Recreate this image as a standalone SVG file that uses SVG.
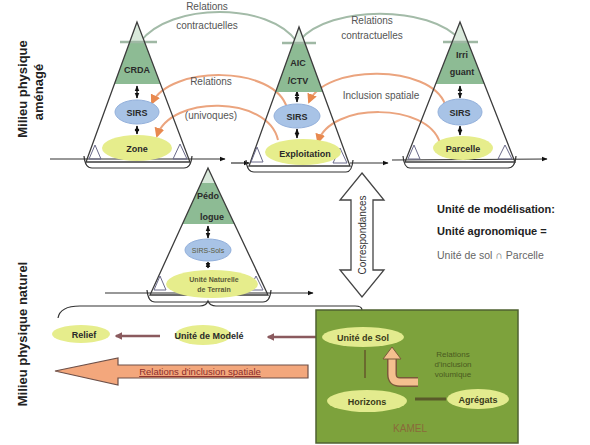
<svg xmlns="http://www.w3.org/2000/svg" width="590" height="445" viewBox="0 0 590 445">
<defs>
<style>
text{font-family:"Liberation Sans",Arial,sans-serif}
.tri{fill:none;stroke:#3c3c3c;stroke-width:1.3}
.corner{fill:none;stroke:#6a6a8a;stroke-width:1}
.green{fill:#8dbb94}
.pale{fill:#d9e9db}
.gline{stroke:#9fb8a4;stroke-width:2.5}
.sirs{fill:#a8c3e6;stroke:#93b0db;stroke-width:1}
.yel{fill:#e6ed8c}
.lbl{font-size:9px;font-weight:bold;fill:#2a2a2a;text-anchor:middle}
.sm{font-size:7px;fill:#5a5a3a;text-anchor:middle}
.arcg{fill:none;stroke:#a3bba8;stroke-width:2}
.arco{fill:none;stroke:#eba47e;stroke-width:2;marker-end:url(#ao)}
.tl{fill:none;stroke:#333;stroke-width:1.2}
.tla{fill:none;stroke:#333;stroke-width:1.2;marker-end:url(#ak)}
.dbl{stroke:#222;stroke-width:1.5;marker-start:url(#ak2);marker-end:url(#ak2)}
.mid{font-size:10px;fill:#555;text-anchor:middle}
.side{font-size:13px;font-weight:bold;fill:#222;text-anchor:middle}
.mar{stroke:#8a5a5e;stroke-width:2.5;fill:none;marker-end:url(#am)}
.kel{fill:#e3eb8e}
.klbl{font-size:9px;font-weight:bold;fill:#3a3a1a;text-anchor:middle}
</style>
<marker id="ao" viewBox="0 0 10 10" refX="8" refY="5" markerWidth="5" markerHeight="5" orient="auto"><path d="M0,0 L10,5 L0,10 z" fill="#e8894f"/></marker>
<marker id="ak" viewBox="0 0 10 10" refX="9" refY="5" markerWidth="5" markerHeight="5" orient="auto"><path d="M0,1 L10,5 L0,9 z" fill="#111"/></marker>
<marker id="ak2" viewBox="0 0 10 10" refX="9" refY="5" markerWidth="4" markerHeight="4" orient="auto-start-reverse"><path d="M0,1 L10,5 L0,9 z" fill="#111"/></marker>
<marker id="am" viewBox="0 0 10 10" refX="8" refY="5" markerWidth="3" markerHeight="3" orient="auto"><path d="M0,0 L10,5 L0,10 z" fill="#8a5a5e"/></marker>
</defs>

<!-- side labels -->
<g id="label-amenage">
<text class="side" transform="translate(27,89) rotate(-90)">Milieu physique</text>
<text class="side" transform="translate(43,92) rotate(-90)">aménagé</text>
</g>
<g id="label-naturel">
<text class="side" transform="translate(27,334) rotate(-90)">Milieu physique naturel</text>
</g>

<!-- connectors -->
<g id="connectors">
<path class="arcg" d="M140,42 C170,2 270,2 297,42"/>
<path class="arcg" d="M300,40 C330,5 430,5 460,40"/>
<path class="arco" d="M287,108 C275,65 170,65 152,103"/>
<path class="arco" d="M278,140 C268,95 170,95 157,136"/>
<path class="arco" d="M445,104 C430,64 325,64 309,102"/>
<path class="arco" d="M440,143 C428,102 330,102 318,142"/>
<path class="tla" d="M50,159 L225,159"/>
<path class="tla" d="M231,163 L249,163"/>
<path class="tla" d="M350,163 L388,163"/>
<path class="tla" d="M392,160 L547,159"/>
<path class="tla" d="M105,293 L313,293"/>
<path class="tl" d="M84,156 Q85,168 92,168 L184,168 Q191,168 192,156"/>
<path class="tl" d="M246,160 Q247,172 254,172 L346,172 Q352,172 353,160"/>
<path class="tl" d="M403,156 Q404,168 410,168 L508,168 Q515,168 516,156"/>
<path class="tl" d="M147,290 Q148,302 155,302 L263,302 Q270,302 271,290"/>
<path class="tl" d="M58,318 Q60,306 80,306 L200,306 Q206,306 208,301 Q210,306 216,306 L355,306 Q362,306 362,310"/>
<line class="dbl" x1="137" y1="86" x2="137" y2="98"/>
<line class="dbl" x1="137" y1="126" x2="137" y2="134"/>
<line class="dbl" x1="297" y1="91" x2="297" y2="102"/>
<line class="dbl" x1="297" y1="129" x2="297" y2="138"/>
<line class="dbl" x1="460" y1="86" x2="460" y2="98"/>
<line class="dbl" x1="460" y1="126" x2="460" y2="135"/>
<line class="dbl" x1="208" y1="226" x2="208" y2="238"/>
<line class="dbl" x1="208" y1="262" x2="208" y2="268"/>
<path class="mar" d="M160,336 L116,336"/>
<path class="mar" d="M316,337 L268,337"/>
</g>

<!-- arc texts -->
<g id="arc-labels">
<text class="mid" x="207" y="10">Relations</text>
<text class="mid" x="207" y="29">contractuelles</text>
<text class="mid" x="372" y="24">Relations</text>
<text class="mid" x="372" y="39">contractuelles</text>
<text class="mid" x="211" y="85" fill="#777">Relations</text>
<text class="mid" x="211" y="119" fill="#777">(univoques)</text>
<text class="mid" x="381" y="99" fill="#444">Inclusion spatiale</text>
</g>

<!-- Triangle 1 : CRDA -->
<g id="tri-crda">
<polygon class="pale" points="137,22 129.7,42 144.6,42"/>
<polygon class="green" points="129.7,42 144.6,42 160.5,84 114.4,84"/>
<line class="gline" x1="120" y1="42" x2="157" y2="42"/>
<polygon class="tri" points="137,22 86,162 190,162"/>
<polygon class="corner" points="95,145 101,159 89,159"/>
<polygon class="corner" points="180,144 187,159 173,159"/>
<text class="lbl" x="137" y="73">CRDA</text>
<ellipse class="sirs" cx="137" cy="112" rx="22" ry="12"/>
<text class="lbl" x="137" y="116">SIRS</text>
<ellipse class="yel" cx="137" cy="148" rx="35" ry="13"/>
<text class="lbl" x="137" y="152" fill="#555">Zone</text>
</g>

<!-- Triangle 2 : AIC/CTV -->
<g id="tri-aic">
<polygon class="pale" points="299,27 292.9,44 305.2,44"/>
<polygon class="green" points="292.9,44 305.2,44 322.9,92 275.6,92"/>
<line class="gline" x1="282" y1="43" x2="316" y2="43"/>
<polygon class="tri" points="299,27 249,166 350,166"/>
<polygon class="corner" points="257,147 263,162 251,162"/>
<polygon class="corner" points="340,148 347,163 333,163"/>
<text class="lbl" x="298" y="66" font-size="10">AIC</text>
<text class="lbl" x="298" y="84" font-size="10">/CTV</text>
<ellipse class="sirs" cx="297" cy="116" rx="23" ry="12"/>
<text class="lbl" x="297" y="120">SIRS</text>
<ellipse class="yel" cx="303" cy="152" rx="38" ry="13"/>
<text class="lbl" x="305" y="157">Exploitation</text>
</g>

<!-- Triangle 3 : Irrigant -->
<g id="tri-irri">
<polygon class="pale" points="460,22 452.1,42 467.9,42"/>
<polygon class="green" points="452.1,42 467.9,42 484.4,84 435.6,84"/>
<line class="gline" x1="443" y1="42" x2="478" y2="42"/>
<polygon class="tri" points="460,22 405,162 515,162"/>
<polygon class="corner" points="414,145 420,159 408,159"/>
<polygon class="corner" points="505,145 512,159 498,159"/>
<text class="lbl" x="462" y="58" fill="#4a6a40">Irri</text>
<text class="lbl" x="462" y="75" fill="#4a6a40">guant</text>
<ellipse class="sirs" cx="460" cy="112" rx="22" ry="13"/>
<text class="lbl" x="460" y="116" fill="#444">SIRS</text>
<ellipse class="yel" cx="463" cy="148" rx="30" ry="12"/>
<text class="lbl" x="463" y="152">Parcelle</text>
</g>

<!-- Middle triangle : Pedologue -->
<g id="tri-pedo">
<polygon class="pale" points="208,168 201.1,183 215.1,183"/>
<polygon class="green" points="201.1,183 215.1,183 234.4,224 182.4,224"/>
<polygon class="tri" points="208,168 150,295 268,295"/>
<polygon class="corner" points="160,276 166,290 154,290"/>
<polygon class="corner" points="256,276 263,290 249,290"/>
<text class="lbl" x="208" y="199" fill="#444">Pédo</text>
<text class="lbl" x="212" y="220" fill="#333">logue</text>
<ellipse class="sirs" cx="208" cy="250" rx="23" ry="11"/>
<text class="sm" x="208" y="253" fill="#6a7a9a">SIRS-Sols</text>
<ellipse class="yel" cx="212" cy="284" rx="46" ry="14"/>
<text class="sm" x="214" y="282" font-weight="bold" fill="#8a7a40">Unité Naturelle</text>
<text class="sm" x="214" y="292" font-weight="bold" fill="#8a7a40">de Terrain</text>
</g>

<!-- Correspondances -->
<g id="correspondances">
<polygon points="362,173 384,200 373,200 373,270 384,270 362,297 340,270 351,270 351,200 340,200" fill="#fff" stroke="#444" stroke-width="1.3"/>
<text transform="translate(366,235) rotate(-90)" font-size="10" fill="#333" text-anchor="middle">Correspondances</text>
</g>

<!-- Right text -->
<g id="definition">
<text x="437" y="213" font-size="11" font-weight="bold" fill="#222">Unité de modélisation:</text>
<text x="437" y="235" font-size="11" font-weight="bold" fill="#222">Unité agronomique =</text>
<text x="437" y="259" font-size="10.5" fill="#666">Unité de sol ∩ Parcelle</text>
</g>

<!-- Bottom left chain -->
<g id="relief">
<ellipse class="yel" cx="81" cy="334" rx="29" ry="9"/>
<text class="lbl" x="84" y="338" fill="#444">Relief</text>
</g>
<g id="unite-modele">
<ellipse class="yel" cx="203" cy="335" rx="28" ry="10"/>
<text class="lbl" x="209" y="339" fill="#333">Unité de Modelé</text>
</g>

<!-- Big orange arrow -->
<g id="inclusion-spatiale">
<polygon points="55,371 118,358 118,365 308,365 308,378 118,378 118,385" fill="#f3a77c" stroke="#6e5048" stroke-width="1.2"/>
<text x="200" y="375" font-size="9.5" fill="#8b2d2d" text-anchor="middle" text-decoration="underline">Relations d'inclusion spatiale</text>
</g>

<!-- KAMEL box -->
<g id="kamel">
<rect x="316" y="310" width="202" height="133" fill="#7da23c" stroke="#4f6230" stroke-width="1.5"/>
<ellipse class="kel" cx="363" cy="337" rx="41" ry="10"/>
<text class="klbl" x="363" y="341">Unité de Sol</text>
<line x1="365" y1="350" x2="365" y2="378" stroke="#6a6a2e" stroke-width="2"/>
<path d="M418,382 L400,382 Q392,382 392,374 L392,357" fill="none" stroke="#7a5a3a" stroke-width="10"/>
<path d="M418,382 L400,382 Q392,382 392,374 L392,357" fill="none" stroke="#f4c08f" stroke-width="7"/>
<polygon points="392,347 401,359 383,359" fill="#f4c08f" stroke="#7a5a3a" stroke-width="1"/>
<text x="453" y="357" font-size="8" fill="#4a5a20" text-anchor="middle">Relations</text>
<text x="453" y="367" font-size="8" fill="#4a5a20" text-anchor="middle">d'inclusion</text>
<text x="453" y="377" font-size="8" fill="#4a5a20" text-anchor="middle">volumique</text>
<ellipse class="kel" cx="367" cy="401" rx="40" ry="11"/>
<text class="klbl" x="367" y="405">Horizons</text>
<line x1="415" y1="399" x2="446" y2="399" stroke="#5a5a2a" stroke-width="3"/>
<ellipse class="kel" cx="478" cy="399" rx="31" ry="10"/>
<text class="klbl" x="478" y="403" font-size="8.5" fill="#5a5a2a">Agrégats</text>
<text x="410" y="432" font-size="10" fill="#8a6a3a" text-anchor="middle">KAMEL</text>
</g>
</svg>
